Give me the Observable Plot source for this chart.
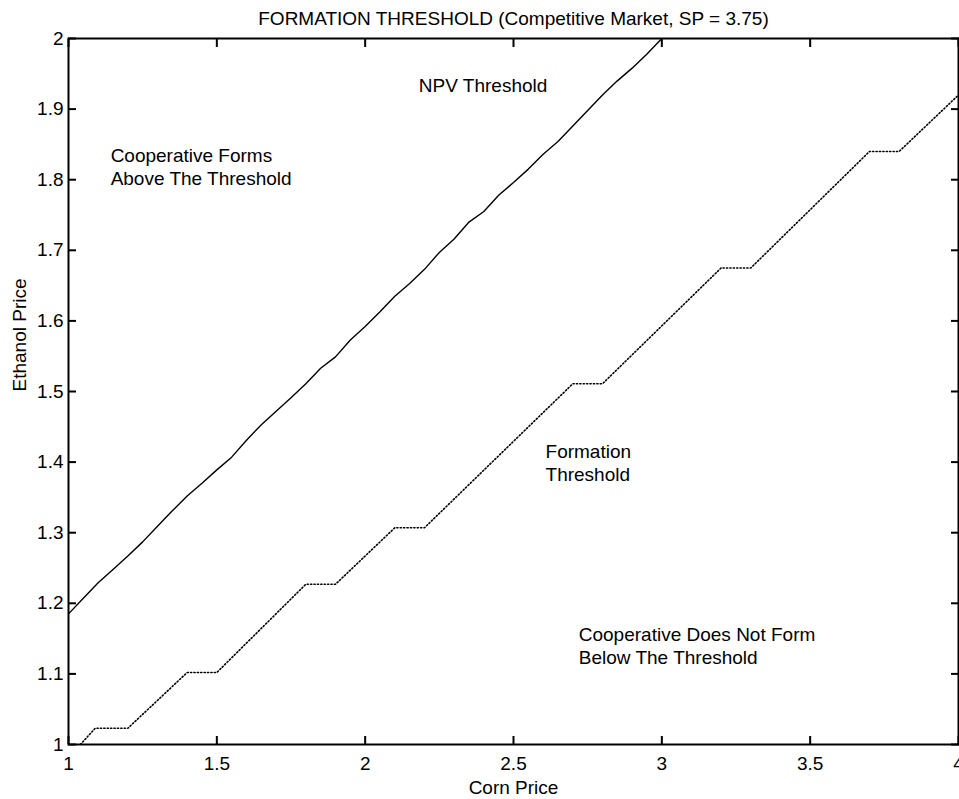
<!DOCTYPE html>
<html><head><meta charset="utf-8">
<script src="https://cdn.jsdelivr.net/npm/d3@7"></script>
<script src="https://cdn.jsdelivr.net/npm/@observablehq/plot@0.6"></script>
<style>
body{margin:0;background:#fff;}
#chart svg{display:block;}
</style>
</head><body><div id="chart"></div>
<script>
// ---- data ----
const title = "FORMATION THRESHOLD (Competitive Market, SP = 3.75)";
const xLabel = "Corn Price";
const yLabel = "Ethanol Price";
const xTicks = [1, 1.5, 2, 2.5, 3, 3.5, 4];
const yTicks = [1, 1.1, 1.2, 1.3, 1.4, 1.5, 1.6, 1.7, 1.8, 1.9, 2];

// NPV Threshold (solid)
const npvCorn = [1.00,1.05,1.10,1.15,1.20,1.25,1.30,1.35,1.40,1.45,1.50,1.55,1.60,1.65,1.70,1.75,1.80,1.85,1.90,1.95,2.00,
                 2.05,2.10,2.15,2.20,2.25,2.30,2.35,2.40,2.45,2.50,2.55,2.60,2.65,2.70,2.75,2.80,2.85,2.90,2.95,3.00];
const npvEthanol = [1.185,1.207,1.229,1.248,1.267,1.287,1.309,1.331,1.352,1.370,1.389,1.407,1.431,1.453,1.472,1.491,1.511,1.533,1.549,1.573,1.592,
                    1.613,1.635,1.653,1.673,1.697,1.716,1.740,1.755,1.778,1.796,1.815,1.836,1.854,1.876,1.898,1.920,1.940,1.958,1.978,2.000];

// Formation Threshold (dotted)
const formCorn = [1.04,1.09,1.20,1.40,1.50,1.80,1.90,2.10,2.20,2.70,2.80,3.20,3.30,3.70,3.80,4.00];
const formEthanol = [1.000,1.023,1.023,1.102,1.102,1.227,1.227,1.307,1.307,1.511,1.511,1.675,1.675,1.840,1.840,1.920];

// Annotations (data coordinates)
const noteText = ["NPV Threshold", "Cooperative Forms\nAbove The Threshold", "Formation\nThreshold", "Cooperative Does Not Form\nBelow The Threshold"];
const noteCorn = [2.181, 1.142, 2.608, 2.720];
const noteEthanol = [1.935, 1.8195, 1.400, 1.141];

// ---- build tables ----
const npv = npvCorn.map((x, i) => ({x, y: npvEthanol[i]}));
const form = formCorn.map((x, i) => ({x, y: formEthanol[i]}));
const notes = noteText.map((t, i) => ({t, x: noteCorn[i], y: noteEthanol[i]}));
const fmt = d3.format("~g");

const chart = Plot.plot({
  width: 959,
  height: 799,
  marginLeft: 68,
  marginRight: 1,
  marginTop: 38,
  marginBottom: 55,
  style: {fontFamily: "'Liberation Sans', Arial, sans-serif", fontSize: "19px", background: "#fff", color: "#000"},
  x: {domain: [1, 4]},
  y: {domain: [1, 2]},
  marks: [
    // labels
    Plot.axisX({ticks: xTicks, anchor: "bottom", tickSize: 0, tickPadding: 12, tickFormat: fmt, label: null}),
    Plot.axisY({ticks: yTicks, anchor: "left", tickSize: 0, tickPadding: 5, tickFormat: fmt, label: null}),
    // inward ticks on all sides
    Plot.axisX({ticks: xTicks, anchor: "bottom", tickSize: 8, dy: -8, tickFormat: () => "", label: null, strokeWidth: 2}),
    Plot.axisX({ticks: xTicks, anchor: "top", tickSize: 8, dy: 8, tickFormat: () => "", label: null, strokeWidth: 2}),
    Plot.axisY({ticks: yTicks, anchor: "left", tickSize: 8, dx: 8, tickFormat: () => "", label: null, strokeWidth: 2}),
    Plot.axisY({ticks: yTicks, anchor: "right", tickSize: 8, dx: -8, tickFormat: () => "", label: null, strokeWidth: 2}),
    Plot.frame({stroke: "#000", strokeWidth: 2}),
    Plot.line(npv, {x: "x", y: "y", stroke: "#000", strokeWidth: 1.4, clip: true}),
    Plot.line(form, {x: "x", y: "y", stroke: "#000", strokeWidth: 1.6, strokeDasharray: "1.2,2.2", clip: true}),
    Plot.text(notes, {x: "x", y: "y", text: "t", textAnchor: "start", lineAnchor: "middle", lineHeight: 1.2, fill: "#000"}),
    Plot.text([title], {frameAnchor: "top", dy: -20, lineAnchor: "middle", fill: "#000"}),
    Plot.text([xLabel], {frameAnchor: "bottom", dy: 43, lineAnchor: "middle", fill: "#000"}),
    Plot.text([yLabel], {frameAnchor: "left", dx: -49, rotate: -90, lineAnchor: "middle", fill: "#000"})
  ]
});
document.getElementById("chart").appendChild(chart);
</script>
</body></html>
